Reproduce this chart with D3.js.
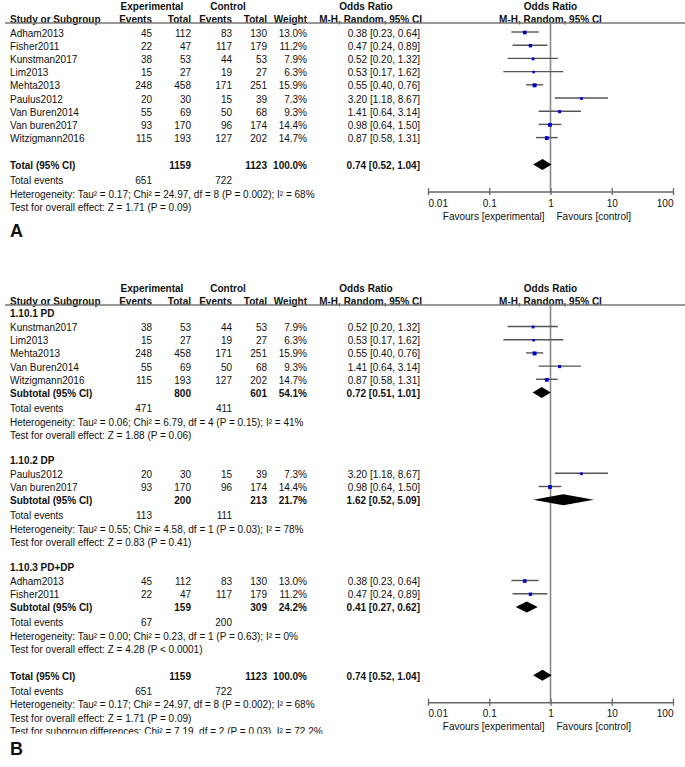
<!DOCTYPE html>
<html>
<head>
<meta charset="utf-8">
<script src="https://cdn.jsdelivr.net/npm/d3@7"></script>
<style>
  body { margin: 0; background: #fff; }
  svg text { font-family: "Liberation Sans", Arial, sans-serif; font-size: 10px; fill: #111; }
  svg text.b { font-weight: bold; }
</style>
</head>
<body>
<div class="chart"></div>
<script>
// studies
const studyNames = ["Adham2013", "Fisher2011", "Kunstman2017", "Lim2013", "Mehta2013",
  "Paulus2012", "Van Buren2014", "Van buren2017", "Witzigmann2016"];
const expEvents = [45, 22, 38, 15, 248, 20, 55, 93, 115];
const expTotal = [112, 47, 53, 27, 458, 30, 69, 170, 193];
const ctlEvents = [83, 117, 44, 19, 171, 15, 50, 96, 127];
const ctlTotal = [130, 179, 53, 27, 251, 39, 68, 174, 202];
const weights = [13.0, 11.2, 7.9, 6.3, 15.9, 7.3, 9.3, 14.4, 14.7];
const oddsRatio = [0.38, 0.47, 0.52, 0.53, 0.55, 3.20, 1.41, 0.98, 0.87];
const ciLow = [0.23, 0.24, 0.20, 0.17, 0.40, 1.18, 0.64, 0.64, 0.58];
const ciHigh = [0.64, 0.89, 1.32, 1.62, 0.76, 8.67, 3.14, 1.50, 1.31];

// subgroups (panel B)
const subgroupNames = ["1.10.1 PD", "1.10.2 DP", "1.10.3 PD+DP"];
const subgroupStudies = [
  ["Kunstman2017", "Lim2013", "Mehta2013", "Van Buren2014", "Witzigmann2016"],
  ["Paulus2012", "Van buren2017"],
  ["Adham2013", "Fisher2011"]
];
const subExpEvents = [471, 113, 67];
const subExpTotal = [800, 200, 159];
const subCtlEvents = [411, 111, 200];
const subCtlTotal = [601, 213, 309];
const subWeight = [54.1, 21.7, 24.2];
const subOR = [0.72, 1.62, 0.41];
const subLow = [0.51, 0.52, 0.27];
const subHigh = [1.01, 5.09, 0.62];
const subHet = [
  "Heterogeneity: Tau² = 0.06; Chi² = 6.79, df = 4 (P = 0.15); I² = 41%",
  "Heterogeneity: Tau² = 0.55; Chi² = 4.58, df = 1 (P = 0.03); I² = 78%",
  "Heterogeneity: Tau² = 0.00; Chi² = 0.23, df = 1 (P = 0.63); I² = 0%"
];
const subEffect = [
  "Test for overall effect: Z = 1.88 (P = 0.06)",
  "Test for overall effect: Z = 0.83 (P = 0.41)",
  "Test for overall effect: Z = 4.28 (P < 0.0001)"
];

// overall
const totExpEvents = 651, totExpTotal = 1159, totCtlEvents = 722, totCtlTotal = 1123;
const totWeight = 100.0, totOR = 0.74, totLow = 0.52, totHigh = 1.04;
const totHet = "Heterogeneity: Tau² = 0.17; Chi² = 24.97, df = 8 (P = 0.002); I² = 68%";
const totEffect = "Test for overall effect: Z = 1.71 (P = 0.09)";
const subgroupDiff = "Test for subgroup differences: Chi² = 7.19, df = 2 (P = 0.03), I² = 72.2%";

const axisTicks = [0.01, 0.1, 1, 10, 100];
const favourLeft = "Favours [experimental]", favourRight = "Favours [control]";

const W = 685, H = 767;
const col = { name: 10, expEv: 152, expTot: 191, ctlEv: 232, ctlTot: 267, weight: 307, orTxt: 420 };
const step = 13.2;

const svg = d3.select(".chart").append("svg")
  .attr("width", W).attr("height", H);

const x = d3.scaleLog().domain([0.01, 100]).range([428, 673]);

const fmtW = d => d3.format(".1f")(d) + "%";
const f2 = d3.format(".2f");
const fmtOR = (o, l, h) => f2(o) + " [" + f2(l) + ", " + f2(h) + "]";

function txt(g, xx, y, s, anchor, bold) {
  return g.append("text")
    .attr("x", xx).attr("y", y).attr("dy", "0.35em")
    .attr("text-anchor", anchor || "start")
    .attr("class", bold ? "b" : null)
    .text(s);
}

function buildRows(top, grouped) {
  const rows = [];
  let y = top;
  if (!grouped) {
    y += 10;
    studyNames.forEach((n, i) => { rows.push({ kind: "study", y, i }); y += step; });
    y += 27 - step;
  } else {
    y += 8.5;
    subgroupNames.forEach((g, k) => {
      rows.push({ kind: "group", y, k }); y += 14;
      subgroupStudies[k].forEach(n => {
        rows.push({ kind: "study", y, i: studyNames.indexOf(n) }); y += step;
      });
      rows.push({ kind: "subtotal", y, k }); y += 15;
      rows.push({ kind: "events", y, ev: [subExpEvents[k], subCtlEvents[k]] }); y += 13.5;
      rows.push({ kind: "note", y, text: subHet[k] }); y += 13.3;
      rows.push({ kind: "note", y, text: subEffect[k] }); y += 25;
    });
    y += 1.5;
  }
  const totalY = y;
  rows.push({ kind: "total", y });
  rows.push({ kind: "events", y: y + 15, ev: [totExpEvents, totCtlEvents] });
  rows.push({ kind: "note", y: y + 28.5, text: totHet });
  rows.push({ kind: "note", y: y + 41.8, text: totEffect });
  if (grouped) rows.push({ kind: "note", y: y + 55.1, text: subgroupDiff, clip: true });
  return { rows, totalY };
}

function diamond(g, y, o, l, h) {
  const hh = 5.5;
  g.append("path")
    .attr("d", `M${x(l)},${y} L${x(o)},${y - hh} L${x(h)},${y} L${x(o)},${y + hh} Z`)
    .attr("fill", "#000");
}

function drawPanel(top, grouped, label, labelY) {
  const g = svg.append("g");
  // headers
  txt(g, 152, top - 17, "Experimental", "middle", true);
  txt(g, 228, top - 17, "Control", "middle", true);
  txt(g, 366, top - 17, "Odds Ratio", "middle", true);
  txt(g, x(1), top - 17, "Odds Ratio", "middle", true);
  txt(g, col.name, top - 4, "Study or Subgroup", "start", true);
  txt(g, col.expEv, top - 4, "Events", "end", true);
  txt(g, col.expTot, top - 4, "Total", "end", true);
  txt(g, col.ctlEv, top - 4, "Events", "end", true);
  txt(g, col.ctlTot, top - 4, "Total", "end", true);
  txt(g, col.weight, top - 4, "Weight", "end", true);
  txt(g, 422, top - 4, "M-H, Random, 95% CI", "end", true);
  txt(g, x(1), top - 4, "M-H, Random, 95% CI", "middle", true);
  g.append("line").attr("x1", 5).attr("x2", W).attr("y1", top).attr("y2", top)
    .attr("stroke", "#777").attr("stroke-width", 1.3);

  const { rows, totalY } = buildRows(top, grouped);
  const axisY = totalY + 26;

  // line of no effect
  g.append("line").attr("x1", x(1)).attr("x2", x(1)).attr("y1", top).attr("y2", axisY)
    .attr("stroke", "#888").attr("stroke-width", 1.6);

  rows.forEach(r => {
    const my = r.y - 1;
    if (r.kind === "study") {
      const i = r.i;
      txt(g, col.name, r.y, studyNames[i]);
      txt(g, col.expEv, r.y, expEvents[i], "end");
      txt(g, col.expTot, r.y, expTotal[i], "end");
      txt(g, col.ctlEv, r.y, ctlEvents[i], "end");
      txt(g, col.ctlTot, r.y, ctlTotal[i], "end");
      txt(g, col.weight, r.y, fmtW(weights[i]), "end");
      txt(g, col.orTxt, r.y, fmtOR(oddsRatio[i], ciLow[i], ciHigh[i]), "end");
      g.append("line").attr("x1", x(ciLow[i])).attr("x2", x(ciHigh[i]))
        .attr("y1", my).attr("y2", my).attr("stroke", "#555").attr("stroke-width", 1.4);
      const s = Math.sqrt(weights[i]);
      g.append("rect").attr("x", x(oddsRatio[i]) - s / 2).attr("y", my - s / 2 + 0.5)
        .attr("width", s).attr("height", s).attr("fill", "#0000cc");
    } else if (r.kind === "group") {
      txt(g, col.name, r.y, subgroupNames[r.k], "start", true);
    } else if (r.kind === "subtotal") {
      const k = r.k;
      txt(g, col.name, r.y, "Subtotal (95% CI)", "start", true);
      txt(g, col.expTot, r.y, subExpTotal[k], "end", true);
      txt(g, col.ctlTot, r.y, subCtlTotal[k], "end", true);
      txt(g, col.weight, r.y, fmtW(subWeight[k]), "end", true);
      txt(g, col.orTxt, r.y, fmtOR(subOR[k], subLow[k], subHigh[k]), "end", true);
      diamond(g, my, subOR[k], subLow[k], subHigh[k]);
    } else if (r.kind === "total") {
      txt(g, col.name, r.y, "Total (95% CI)", "start", true);
      txt(g, col.expTot, r.y, totExpTotal, "end", true);
      txt(g, col.ctlTot, r.y, totCtlTotal, "end", true);
      txt(g, col.weight, r.y, fmtW(totWeight), "end", true);
      txt(g, col.orTxt, r.y, fmtOR(totOR, totLow, totHigh), "end", true);
      diamond(g, my, totOR, totLow, totHigh);
    } else if (r.kind === "events") {
      txt(g, col.name, r.y, "Total events");
      txt(g, col.expEv, r.y, r.ev[0], "end");
      txt(g, col.ctlEv, r.y, r.ev[1], "end");
    } else if (r.kind === "note") {
      const t = txt(g, col.name, r.y, r.text);
      if (r.clip) {
        const id = "clip" + label;
        svg.append("clipPath").attr("id", id).append("rect")
          .attr("x", 0).attr("y", r.y - 10).attr("width", 400).attr("height", 12.5);
        t.attr("clip-path", `url(#${id})`);
      }
    }
  });

  // axis
  const ax = g.append("g").attr("transform", `translate(0,${axisY})`)
    .call(d3.axisBottom(x).tickValues(axisTicks).tickFormat(d3.format("~g")).tickSizeOuter(0));
  ax.select(".domain").attr("stroke", "#666").attr("stroke-width", 1.5);
  ax.selectAll(".tick line").attr("y1", -3.5).attr("y2", 3.5).attr("stroke", "#666").attr("stroke-width", 1.3);
  ax.selectAll(".tick text")
    .attr("y", 11.5).attr("dy", "0.35em")
    .style("font-family", "'Liberation Sans', Arial, sans-serif").style("font-size", "10px").style("fill", "#111")
    .attr("text-anchor", (d, i) => i === 0 ? "start" : i === axisTicks.length - 1 ? "end" : "middle");
  txt(g, x(1) - 6, axisY + 24.5, favourLeft, "end");
  txt(g, x(1) + 6, axisY + 24.5, favourRight, "start");

  g.append("text").attr("x", 10).attr("y", labelY).attr("dy", "0.35em")
    .style("font-size", "18px").style("font-weight", "bold").text(label);
}

drawPanel(23, false, "A", 231);
drawPanel(305, true, "B", 749);
</script>
</body>
</html>
